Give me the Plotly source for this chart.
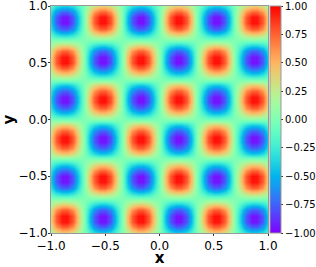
import plotly.graph_objects as go

# Sample positions (x and y) where the pattern was read
x_pos = [round(-1 + 0.05 * i, 2) for i in range(41)]
y_pos = [round(-1 + 0.05 * i, 2) for i in range(41)]

# Wave profile read along a row through blob centres (y = 0.87)
x_wave = [-0.41, -0.77, -0.97, -0.98, -0.79, -0.45, -0.02, 0.42, 0.77, 0.97, 0.98,
          0.79, 0.44, 0.01, -0.43, -0.78, -0.97, -0.98, -0.78, -0.43, 0.00,
          0.43, 0.78, 0.98, 0.97, 0.78, 0.43, -0.01, -0.44, -0.79, -0.98,
          -0.97, -0.77, -0.42, 0.02, 0.45, 0.79, 0.98, 0.97, 0.77, 0.41]
# Wave profile read along a column through blob centres (x = 0.87)
y_wave = [-0.41, -0.77, -0.97, -0.98, -0.79, -0.45, -0.02, 0.42, 0.77, 0.97, 0.98,
          0.79, 0.44, 0.01, -0.43, -0.78, -0.97, -0.98, -0.78, -0.43, 0.00,
          0.43, 0.78, 0.98, 0.97, 0.78, 0.43, -0.01, -0.44, -0.79, -0.98,
          -0.97, -0.77, -0.42, 0.02, 0.45, 0.79, 0.98, 0.97, 0.77, 0.41]

axis_ticks = [-1.0, -0.5, 0.0, 0.5, 1.0]
cbar_ticks = [-1.0, -0.75, -0.5, -0.25, 0.0, 0.25, 0.5, 0.75, 1.0]

z = [[yv * xv for xv in x_wave] for yv in y_wave]

rainbow = [
    [0.00, "rgb(128,0,255)"], [0.05, "rgb(102,40,254)"], [0.10, "rgb(77,79,252)"],
    [0.15, "rgb(51,116,248)"], [0.20, "rgb(26,150,243)"], [0.25, "rgb(0,180,236)"],
    [0.30, "rgb(26,206,227)"], [0.35, "rgb(51,227,218)"], [0.40, "rgb(77,243,206)"],
    [0.45, "rgb(102,252,194)"], [0.50, "rgb(128,255,180)"], [0.55, "rgb(153,252,166)"],
    [0.60, "rgb(179,243,150)"], [0.65, "rgb(204,227,133)"], [0.70, "rgb(230,206,116)"],
    [0.75, "rgb(255,180,98)"], [0.80, "rgb(255,150,79)"], [0.85, "rgb(255,116,59)"],
    [0.90, "rgb(255,79,40)"], [0.95, "rgb(255,40,20)"], [1.00, "rgb(255,0,0)"],
]

fig = go.Figure(go.Heatmap(
    x=x_pos, y=y_pos, z=z, zmin=-1, zmax=1, zsmooth="best",
    colorscale=rainbow,
    colorbar=dict(
        x=1.009, xanchor="left", xpad=0, y=0.5, yanchor="middle",
        len=1, lenmode="fraction", thickness=11, ypad=0,
        outlinecolor="#999999", outlinewidth=1,
        tickvals=cbar_ticks, tickformat=".2f", ticklabeloverflow="allow",
        ticks="outside", ticklen=2, tickcolor="#333333",
        tickfont=dict(family="DejaVu Sans", size=10, color="black"),
    ),
))

fig.update_layout(
    width=316, height=267,
    margin=dict(l=51, r=48, t=6, b=34, autoexpand=False),
    plot_bgcolor="white", paper_bgcolor="white",
    font=dict(family="DejaVu Sans", color="black"),
)
fig.update_xaxes(
    range=[-1, 1], tickvals=axis_ticks, tickformat=".1f", automargin=False,
    ticklabeloverflow="allow",
    showgrid=False, zeroline=False, showline=True, mirror=True,
    linecolor="#999999", linewidth=1, ticks="outside", ticklen=2, tickcolor="#333333",
    tickfont=dict(size=12), title=dict(text="<b>x</b>", font=dict(size=15), standoff=3),
)
fig.update_yaxes(
    range=[-1, 1], tickvals=axis_ticks, tickformat=".1f", automargin=False,
    ticklabeloverflow="allow", ticklabelstandoff=-2,
    showgrid=False, zeroline=False, showline=True, mirror=True,
    linecolor="#999999", linewidth=1, ticks="outside", ticklen=2, tickcolor="#333333",
    tickfont=dict(size=12), title=dict(text="<b>y</b>", font=dict(size=15), standoff=6),
)

fig.write_html("out.html", config={"displayModeBar": False},
               post_script="document.body.style.margin='0';")
